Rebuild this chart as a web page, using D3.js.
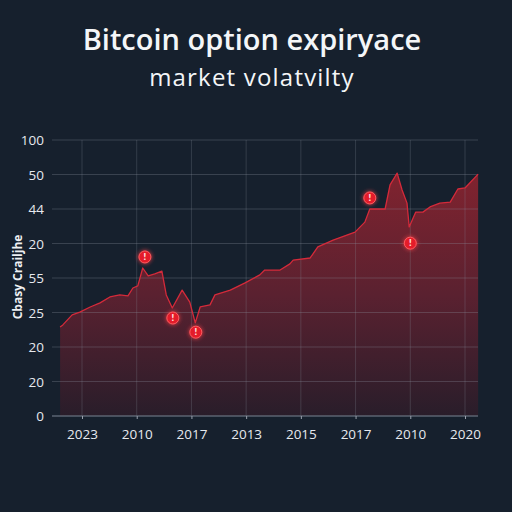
<!DOCTYPE html>
<html>
<head>
<meta charset="utf-8">
<script src="https://cdn.jsdelivr.net/npm/d3@7"></script>
<style>
  html, body { margin: 0; padding: 0; background: #16202d; }
  svg { display: block; }
</style>
</head>
<body>
<svg id="chart" width="512" height="512"></svg>
<script>
// tick labels as printed on the picture
const yTickLabels = ["0", "20", "20", "25", "55", "20", "44", "50", "100"];
const xTickLabels = ["2023", "2010", "2017", "2013", "2015", "2017", "2010", "2020"];

// series, positions in tick-slot units (x) and grid-row units (y)
const seriesX = [-0.40, -0.35, -0.18, -0.04, 0.15, 0.33, 0.51, 0.69, 0.84, 0.93,
  1.02, 1.11, 1.21, 1.33, 1.46, 1.54, 1.65, 1.83, 1.97, 2.07,
  2.16, 2.34, 2.43, 2.71, 2.98, 3.25, 3.34, 3.62, 3.80, 3.86,
  4.17, 4.31, 4.59, 4.99, 5.17, 5.26, 5.54, 5.63, 5.76, 5.85,
  5.94, 5.98, 6.10, 6.23, 6.36, 6.54, 6.73, 6.87, 7.00, 7.24];
const seriesY = [2.58, 2.64, 2.93, 3.01, 3.16, 3.28, 3.45, 3.51, 3.48, 3.71,
  3.77, 4.29, 4.06, 4.12, 4.20, 3.51, 3.13, 3.65, 3.30, 2.70,
  3.16, 3.22, 3.51, 3.65, 3.86, 4.09, 4.23, 4.23, 4.41, 4.52,
  4.58, 4.90, 5.10, 5.33, 5.62, 6.00, 6.00, 6.70, 7.04, 6.55,
  6.17, 5.48, 5.91, 5.91, 6.06, 6.17, 6.20, 6.58, 6.61, 7.01];

// event markers
const markerX = [1.15, 1.66, 2.08, 5.26, 6.00];
const markerY = [4.61, 2.84, 2.43, 6.32, 5.01];

const svg = d3.select("#chart");

const x = d3.scaleLinear().domain([0, 7]).range([82, 465]);
const y = d3.scaleLinear().domain([0, 8]).range([416, 140]);
const left = 52, right = 478;
const font = "Open Sans, sans-serif";

const defs = svg.append("defs");
const grad = defs.append("linearGradient")
  .attr("id", "areaFill")
  .attr("gradientUnits", "userSpaceOnUse")
  .attr("x1", 0).attr("x2", 0)
  .attr("y1", y(7)).attr("y2", y(0));
grad.append("stop").attr("offset", "0%").attr("stop-color", "#80232f");
grad.append("stop").attr("offset", "50%").attr("stop-color", "#5a2130");
grad.append("stop").attr("offset", "100%").attr("stop-color", "#291d2a");

const glow = defs.append("filter").attr("id", "glow")
  .attr("x", "-100%").attr("y", "-100%").attr("width", "300%").attr("height", "300%");
glow.append("feGaussianBlur").attr("stdDeviation", 2).attr("result", "b");
const merge = glow.append("feMerge");
merge.append("feMergeNode").attr("in", "b");
merge.append("feMergeNode").attr("in", "SourceGraphic");

// title
svg.append("text")
  .attr("x", 252).attr("y", 50)
  .attr("text-anchor", "middle")
  .attr("fill", "#f4f6f8")
  .style("font-family", font)
  .style("font-size", "29px")
  .style("font-weight", "600")
  .text("Bitcoin option expiryace");

svg.append("text")
  .attr("x", 252).attr("y", 86)
  .attr("text-anchor", "middle")
  .attr("fill", "#f4f6f8")
  .style("font-family", font)
  .style("font-size", "24px")
  .style("letter-spacing", "1.2px")
  .text("market volatvilty");

// area
const pts = seriesX.map((d, i) => [d, seriesY[i]]);

svg.append("path")
  .datum(pts)
  .attr("fill", "url(#areaFill)")
  .attr("d", d3.area().x((d) => x(d[0])).y0(y(0)).y1((d) => y(d[1])));

// grid over the area, faint
svg.append("g")
  .selectAll("line")
  .data(yTickLabels.map((d, i) => i))
  .join("line")
  .attr("x1", left).attr("x2", right)
  .attr("y1", (d) => y(d)).attr("y2", (d) => y(d))
  .attr("stroke", "#8a92a0")
  .attr("stroke-opacity", 0.3)
  .attr("stroke-width", 1);

svg.append("g")
  .selectAll("line")
  .data(xTickLabels.map((d, i) => i))
  .join("line")
  .attr("x1", (d) => x(d)).attr("x2", (d) => x(d))
  .attr("y1", y(8)).attr("y2", y(0))
  .attr("stroke", "#8a92a0")
  .attr("stroke-opacity", 0.25)
  .attr("stroke-width", 1);

svg.append("path")
  .datum(pts)
  .attr("fill", "none")
  .attr("stroke", "#d42a3a")
  .attr("stroke-width", 1.3)
  .attr("stroke-linejoin", "round")
  .attr("d", d3.line().x((d) => x(d[0])).y((d) => y(d[1])));

// y axis labels
svg.append("g")
  .selectAll("text")
  .data(yTickLabels)
  .join("text")
  .attr("x", 44)
  .attr("y", (d, i) => y(i) + 5)
  .attr("text-anchor", "end")
  .attr("fill", "#e6e9ee")
  .style("font-family", font)
  .style("font-size", "13.5px")
  .text((d) => d);

// x axis
const xAxis = svg.append("g")
  .attr("transform", `translate(0,${y(0)})`)
  .call(d3.axisBottom(x).tickValues(d3.range(8)).tickSize(3).tickFormat((d) => xTickLabels[d]));
xAxis.select(".domain")
  .attr("d", `M${left},0H${right}`)
  .attr("stroke", "#6b7482");
xAxis.selectAll(".tick line").attr("stroke", "#9aa1ad");
xAxis.selectAll(".tick text")
  .attr("y", 13)
  .attr("fill", "#e6e9ee")
  .style("font-family", font)
  .style("font-size", "13.5px");

// y axis title
svg.append("text")
  .attr("transform", "translate(22,277) rotate(-90)")
  .attr("text-anchor", "middle")
  .attr("fill", "#eef0f3")
  .style("font-family", font)
  .style("font-size", "12px")
  .style("font-weight", "bold")
  .text("Cbasy Crailjhe");

// markers
const mk = svg.append("g")
  .selectAll("g")
  .data(markerX.map((d, i) => [d, markerY[i]]))
  .join("g")
  .attr("transform", (d) => `translate(${x(d[0])},${y(d[1])})`);
mk.append("circle")
  .attr("r", 6)
  .attr("fill", "#e41f2b")
  .attr("stroke", "#ff5a5f")
  .attr("stroke-width", 1)
  .attr("filter", "url(#glow)");
mk.append("text")
  .attr("y", 3)
  .attr("text-anchor", "middle")
  .attr("fill", "#ffd9d9")
  .style("font-family", "DejaVu Sans, sans-serif")
  .style("font-size", "8px")
  .style("font-weight", "bold")
  .text("!");
</script>
</body>
</html>
